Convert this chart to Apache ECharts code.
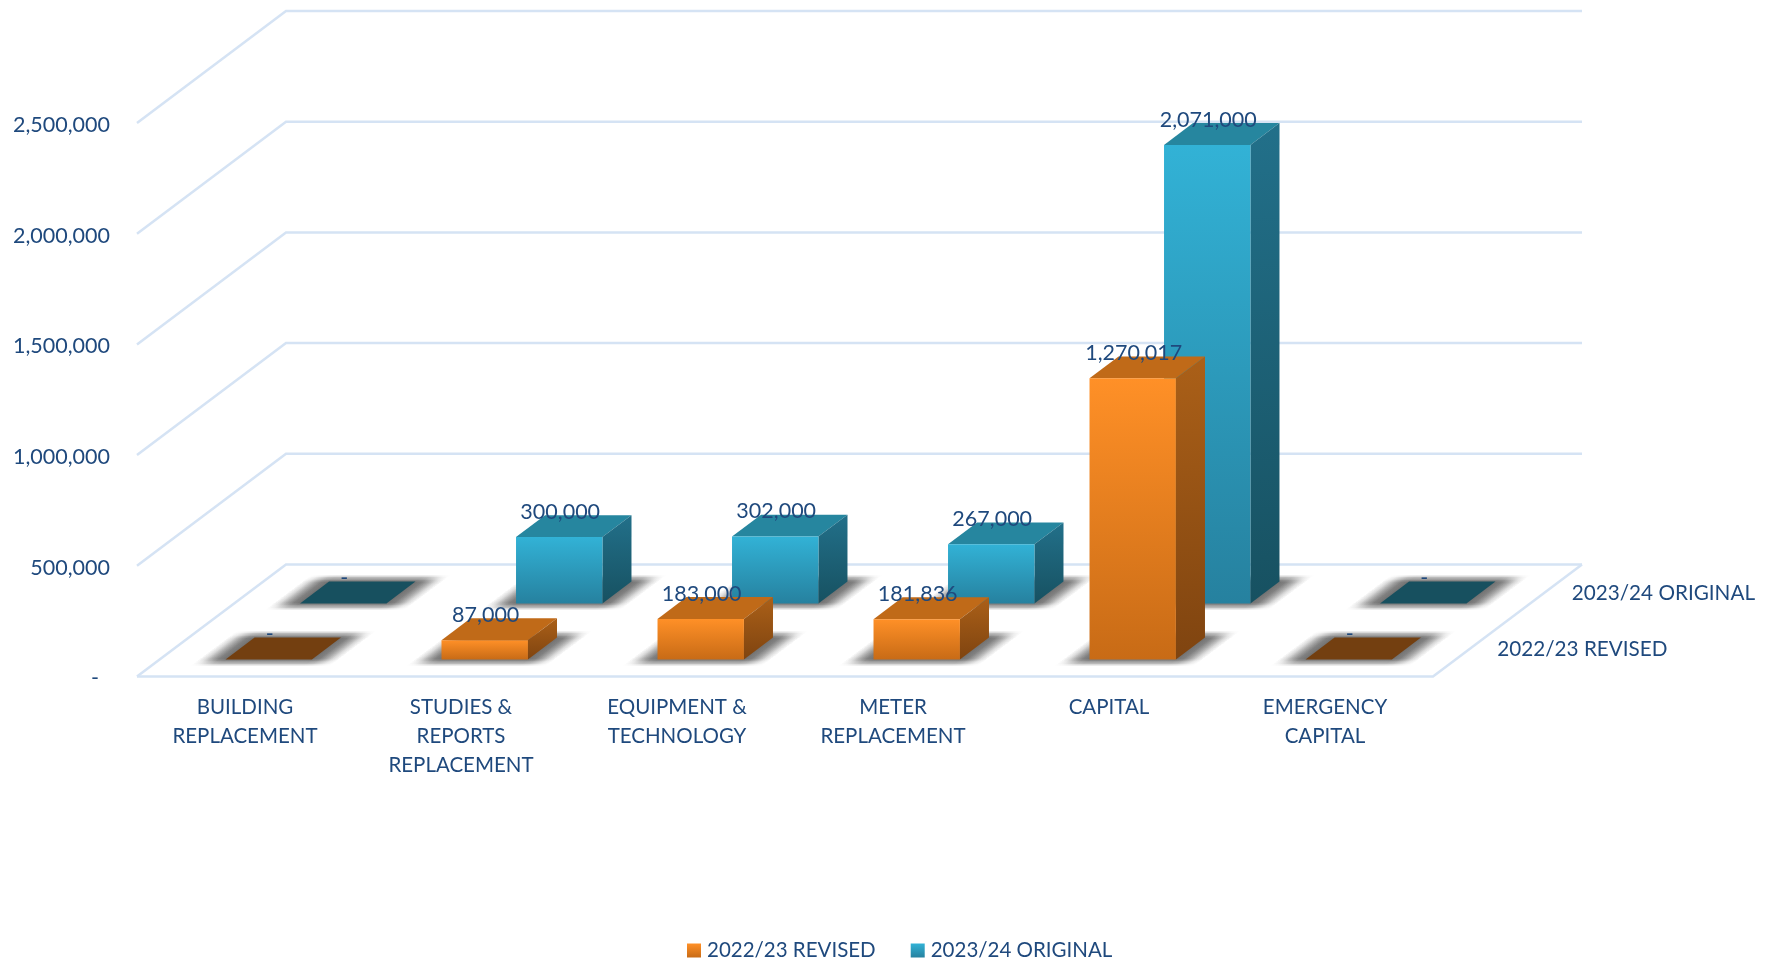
<!DOCTYPE html>
<html>
<head>
<meta charset="utf-8">
<title>Capital budget comparison</title>
<style>html,body{margin:0;padding:0;background:#fff}#chart{width:1771px;height:963px}</style>
<script src="https://cdn.jsdelivr.net/npm/echarts@6/dist/echarts.min.js"></script>
</head>
<body>
<div id="chart"></div>
<script>
// Budget lines and the two fiscal-year series
const categories = [
  'BUILDING\nREPLACEMENT',
  'STUDIES &\nREPORTS\nREPLACEMENT',
  'EQUIPMENT &\nTECHNOLOGY',
  'METER\nREPLACEMENT',
  'CAPITAL',
  'EMERGENCY\nCAPITAL'
];
const revised2223 = [0, 87000, 183000, 181836, 1270017, 0];
const original2324 = [0, 300000, 302000, 267000, 2071000, 0];
const seriesNames = ['2022/23 REVISED', '2023/24 ORIGINAL'];
const wallTicks = [0, 500000, 1000000, 1500000, 2000000, 2500000];

// Oblique projection: how far the full floor depth moves a point on screen
const DEPTH_X = 149;
const DEPTH_Y = 112;
const BAR_WIDTH = 0.4;        // share of a category band
const BAR_DEPTH = 0.39;       // share of a depth row
const BAR_NUDGE = 1;
const TEXT_FONT = '20.7px Lato';
const NUMBER_FONT = '21.5px Lato';
const TEXT_COLOR = '#1f497d';
const WALL_COLOR = '#d5e3f4';

const grad = (a, b) => new echarts.graphic.LinearGradient(0, 0, 0, 1, [
  { offset: 0, color: a }, { offset: 1, color: b }
]);

const palettes = [
  { front: grad('#ff9027', '#c86b16'), top: '#c06a18', side: grad('#ab6018', '#7f4410'), flat: '#733f10' },
  { front: grad('#32b2d6', '#26819f'), top: '#26869f', side: grad('#22708a', '#175161'), flat: '#17505f' }
];

function footprint(api, row) {
  const cat = api.value(0);
  const base = api.coord([cat, 0]);
  const half = api.size([1, 0])[0] * BAR_WIDTH / 2;
  const near = (row + (1 - BAR_DEPTH) / 2) / seriesNames.length;
  const dx = DEPTH_X * BAR_DEPTH / seriesNames.length;
  const dy = DEPTH_Y * BAR_DEPTH / seriesNames.length;
  const x0 = base[0] - half + near * DEPTH_X + BAR_NUDGE;
  const x1 = base[0] + half + near * DEPTH_X + BAR_NUDGE;
  const y0 = base[1] - near * DEPTH_Y;
  return { x0, x1, y0, dx, dy };
}

// One box per data row: front, top and side faces plus the value label
function boxRenderer(row) {
  const colors = palettes[row];
  return function (params, api) {
    const value = api.value(1);
    const f = footprint(api, row);
    const h = api.coord([0, 0])[1] - api.coord([0, value])[1];
    const yt = f.y0 - h;
    const children = [];
    const topFace = [[f.x0, yt], [f.x1, yt], [f.x1 + f.dx, yt - f.dy], [f.x0 + f.dx, yt - f.dy]];
    children.push({ type: 'polygon', shape: { points: topFace },
      style: { fill: value === 0 ? colors.flat : colors.top } });
    if (value > 0) {
      children.push({ type: 'polygon', shape: { points: [[f.x1, f.y0], [f.x1 + f.dx, f.y0 - f.dy], [f.x1 + f.dx, yt - f.dy], [f.x1, yt]] },
        style: { fill: colors.side } });
      children.push({ type: 'rect', shape: { x: f.x0, y: yt, width: f.x1 - f.x0, height: h },
        style: { fill: colors.front } });
    }
    children.push({ type: 'text', z2: 50, style: {
      x: (f.x0 + f.x1) / 2 + 1, y: yt - 25,
      text: value === 0 ? '-' : value.toLocaleString('en-US'),
      font: NUMBER_FONT, fill: TEXT_COLOR, align: 'center', verticalAlign: 'middle'
    } });
    return { type: 'group', children };
  };
}

// Soft floor shadow: gradient layers fading across the slanted edges,
// a few of them stacked so the near and far edges soften as well
function shadowRenderer(row) {
  const SPREAD = 27;
  const layers = [0, 1.5, 3, 4.5, 6];
  const peak = 0.15;
  const fade = [[0, 0], [0.25, 0.2], [0.5, 0.55], [0.75, 0.85], [1, 1]];
  return function (params, api) {
    const f = footprint(api, row);
    const slant = f.dx / f.dy;
    const width = f.x1 - f.x0 + 2 * SPREAD;
    const len = Math.hypot(f.dx, f.dy);
    const nx = f.dy / len;
    const ny = f.dx / len;
    const run = width * nx;
    const edge = SPREAD / width;
    const stops = [];
    fade.forEach(([t, a]) => stops.push({ offset: t * edge, color: 'rgba(0,0,0,' + a * peak + ')' }));
    fade.slice().reverse().forEach(([t, a]) => stops.push({ offset: 1 - t * edge, color: 'rgba(0,0,0,' + a * peak + ')' }));
    const startX = f.x0 - SPREAD;
    const startY = f.y0;
    const fill = new echarts.graphic.LinearGradient(
      startX, startY, startX + nx * run, startY + ny * run, stops, true
    );
    const children = layers.map(e => ({
      type: 'polygon',
      shape: { points: [
        [f.x0 - SPREAD - e * slant, f.y0 + e],
        [f.x1 + SPREAD - e * slant, f.y0 + e],
        [f.x1 + f.dx + SPREAD + e * slant, f.y0 - f.dy - e],
        [f.x0 + f.dx - SPREAD + e * slant, f.y0 - f.dy - e]
      ] },
      style: { fill }
    }));
    return { type: 'group', children };
  };
}

// Left wall diagonals, back wall rules and the floor outline
function wallRenderer(params, api) {
  const value = api.value(1);
  const band = api.size([1, 0])[0];
  const y = api.coord([0, value])[1];
  const left = api.coord([0, value])[0] - band / 2;
  const right = left + band * categories.length;
  const style = { stroke: WALL_COLOR, lineWidth: 2.5, fill: null };
  const children = [{ type: 'polyline', shape: { points: [[left, y], [left + DEPTH_X, y - DEPTH_Y], [right + DEPTH_X, y - DEPTH_Y]] }, style }];
  if (value === 0) {
    children.push({ type: 'polyline', shape: { points: [[left, y], [right, y], [right + DEPTH_X, y - DEPTH_Y]] }, style });
  }
  return { type: 'group', children };
}

// Depth-axis labels beside the right floor edge
function rowLabelRenderer(params, api) {
  const row = api.value(2);
  const p = api.coord([api.value(0), 0]);
  const f = (row + 0.5) / seriesNames.length;
  return { type: 'text', style: {
    x: p[0] + api.size([1, 0])[0] / 2 + f * DEPTH_X + 27,
    y: p[1] - f * DEPTH_Y + 1,
    text: seriesNames[row], font: TEXT_FONT, fill: TEXT_COLOR, align: 'left', verticalAlign: 'middle'
  } };
}

const asPoints = values => values.map((v, i) => [i, v]);
const last = categories.length - 1;

const chart = echarts.init(document.getElementById('chart'), null, { renderer: 'canvas' });
chart.setOption({
  animation: false,
  backgroundColor: '#fff',
  textStyle: { fontFamily: 'Lato' },
  grid: { left: 137, top: 123, width: 1296, height: 553.5, containLabel: false },
  legend: {
    left: 687, top: 940, itemWidth: 14, itemHeight: 14, itemGap: 35, padding: 0,
    selectedMode: false,
    textStyle: { fontFamily: 'Lato', fontSize: 20.5, color: TEXT_COLOR, padding: [0, 0, 0, 1] },
    data: [
      { name: seriesNames[0], icon: 'rect', itemStyle: { color: palettes[0].front } },
      { name: seriesNames[1], icon: 'rect', itemStyle: { color: palettes[1].front } }
    ]
  },
  xAxis: {
    type: 'category', data: categories,
    axisLine: { show: false }, axisTick: { show: false }, splitLine: { show: false },
    axisLabel: { interval: 0, margin: 16, lineHeight: 29, fontSize: 20.5, fontFamily: 'Lato', color: TEXT_COLOR, verticalAlign: 'top' }
  },
  yAxis: {
    type: 'value', min: 0, max: 2500000, interval: 500000,
    axisLine: { show: false }, axisTick: { show: false }, splitLine: { show: false },
    axisLabel: {
      margin: 27, fontSize: 21.5, fontFamily: 'Lato', color: TEXT_COLOR,
      verticalAlign: 'top', lineHeight: 4,
      formatter: v => v === 0 ? '-  ' : v.toLocaleString('en-US')
    }
  },
  series: [
    { type: 'custom', name: 'walls', z: 1, clip: false, silent: true, renderItem: wallRenderer,
      encode: { x: 0, y: 1 }, data: wallTicks.map(v => [0, v]) },
    { type: 'custom', name: 'shadow back', z: 2, clip: false, silent: true, renderItem: shadowRenderer(1),
      encode: { x: 0, y: 1 }, data: asPoints(original2324) },
    { type: 'custom', name: 'shadow front', z: 2, clip: false, silent: true, renderItem: shadowRenderer(0),
      encode: { x: 0, y: 1 }, data: asPoints(revised2223) },
    { type: 'custom', name: seriesNames[1], z: 3, clip: false, renderItem: boxRenderer(1),
      encode: { x: 0, y: 1 }, data: asPoints(original2324) },
    { type: 'custom', name: seriesNames[0], z: 4, clip: false, renderItem: boxRenderer(0),
      encode: { x: 0, y: 1 }, data: asPoints(revised2223) },
    { type: 'custom', name: 'depth labels', z: 5, clip: false, silent: true, renderItem: rowLabelRenderer,
      encode: { x: 0, y: 1 }, data: seriesNames.map((n, i) => [last, 0, i]) }
  ]
});
</script>
</body>
</html>
